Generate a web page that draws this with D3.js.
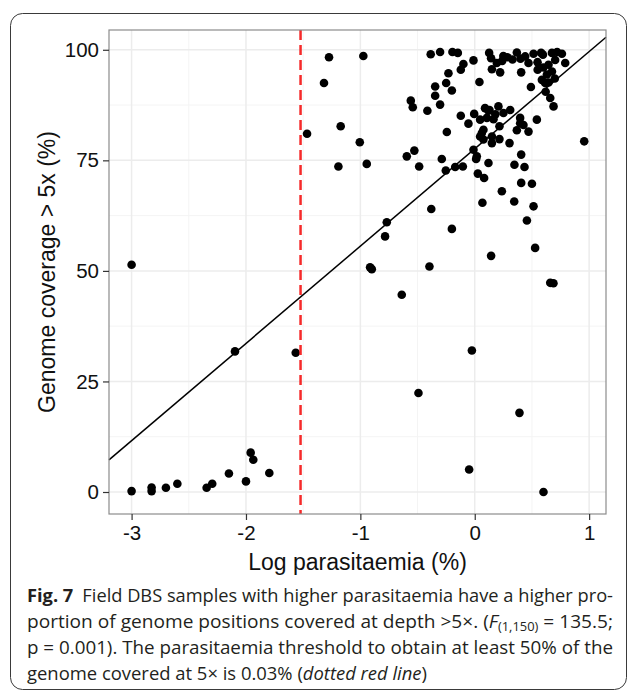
<!DOCTYPE html>
<html><head><meta charset="utf-8">
<script src="https://cdn.jsdelivr.net/npm/d3@7"></script>
<style>
html,body{margin:0;padding:0;background:#fff;}
svg{display:block;}
</style></head>
<body>
<svg id="chart" width="630" height="695"></svg>
<script>
// ---- data ----
const logParasitaemia = [
 -3.00,-3.00,-2.825,-2.825,-2.70,-2.60,-2.344,-2.295,-2.149,-2.00,-1.959,-1.936,-1.796,-2.096,-1.565,
 -1.466,-1.318,-1.274,-0.974,-1.172,-1.005,-1.192,-0.944,-0.769,-0.784,-0.915,-0.900,-0.559,-0.542,-0.414,
 -0.594,-0.528,-0.486,-0.385,-0.380,-0.288,-0.253,-0.171,-0.104,-0.200,-0.396,-0.638,0.143,0.660,0.688,
 -0.025,-0.492,0.391,-0.049,0.601,
 0.012,0.027,0.082,0.120,0.237,0.067,0.345,0.406,0.347,0.435,0.406,0.500,0.514,0.456,0.528,0.957,
 -0.303,-0.195,-0.148,0.126,0.143,0.193,-0.011,-0.099,-0.122,-0.230,-0.250,-0.346,-0.346,-0.200,0.041,
 -0.303,0.222,0.150,0.286,0.368,0.441,0.514,0.470,0.406,0.549,0.596,0.675,0.762,0.703,0.645,0.791,
 0.675,0.631,0.616,0.587,0.645,0.491,0.660,0.689,-0.122,-0.005,0.129,0.207,0.251,0.310,0.397,0.543,
 -0.244,-0.055,0.062,0.076,0.150,0.216,0.216,0.106,0.304,0.397,0.368,0.470,-0.011,0.018,0.047,0.164,
 0.076,0.047,0.150,0.426,0.120,0.250,0.330,0.400,0.580,0.720,0.600,0.550,0.700,0.620,0.240,0.090,0.180
];
const genomeCoverage = [
 51.4,0.2,1.0,0.2,0.95,1.85,0.95,1.85,4.2,2.4,8.9,7.3,4.3,31.8,31.5,
 81.0,92.5,98.3,98.6,82.7,79.1,73.6,74.2,61.0,57.8,50.8,50.4,88.5,87.0,86.2,
 75.9,77.2,73.6,99.0,64.0,75.3,72.7,73.5,73.6,59.5,51.0,44.6,53.4,47.3,47.2,
 32.0,22.4,17.9,5.1,0.0,
 75.3,72.0,71.0,74.4,68.0,65.4,65.7,76.3,74.0,73.5,69.9,69.7,64.6,61.4,55.2,79.3,
 99.5,99.5,99.3,99.3,98.1,97.0,97.6,96.8,95.5,94.7,92.5,91.7,89.6,90.8,92.7,
 87.6,94.9,95.6,98.3,99.4,98.5,99.1,97.0,94.9,97.2,98.9,99.3,99.1,97.7,96.6,97.0,
 95.1,94.4,92.5,93.2,92.6,91.6,89.1,87.2,85.1,85.5,86.4,87.2,85.7,86.4,84.6,84.2,
 81.4,83.3,81.2,79.7,78.9,79.8,82.7,84.6,78.9,83.4,81.8,81.5,77.4,75.9,84.2,84.3,
 81.9,80.4,80.4,83.0,86.2,98.6,97.8,98.0,99.3,99.5,96.0,95.5,93.5,90.5,97.5,86.8,85.4
];
const xTicks = [-3,-2,-1,0,1];
const yTicks = [0,25,50,75,100];
const xMinor = [-2.5,-1.5,-0.5,0.5];
const yMinor = [12.5,37.5,62.5,87.5];
const fitIntercept = 77.6;
const fitSlope = 22.0;
const thresholdLog = Math.log10(0.03);
const xTitle = "Log parasitaemia (%)";
const yTitle = "Genome coverage > 5x (%)";

const points = logParasitaemia.map((x,i)=>({x, y: genomeCoverage[i]}));

// ---- layout ----
const svg = d3.select("#chart");
const P = {left:109, right:606, top:30, bottom:514};
const x = d3.scaleLinear().domain([-3.1975, 1.1475]).range([P.left, P.right]);
const y = d3.scaleLinear().domain([-4.975, 104.475]).range([P.bottom, P.top]);

// outer frame
svg.append("rect").attr("x",10.5).attr("y",13.5).attr("width",616).attr("height",676)
  .attr("rx",12).attr("fill","none").attr("stroke","#3a3a3a").attr("stroke-width",1);

const grid = svg.append("g");
grid.selectAll(".xminor").data(xMinor).join("line")
  .attr("x1",d=>x(d)).attr("x2",d=>x(d)).attr("y1",P.top).attr("y2",P.bottom)
  .attr("stroke","#f4f4f4").attr("stroke-width",1);
grid.selectAll(".yminor").data(yMinor).join("line")
  .attr("y1",d=>y(d)).attr("y2",d=>y(d)).attr("x1",P.left).attr("x2",P.right)
  .attr("stroke","#f4f4f4").attr("stroke-width",1);
grid.selectAll(".xmajor").data(xTicks).join("line")
  .attr("x1",d=>x(d)).attr("x2",d=>x(d)).attr("y1",P.top).attr("y2",P.bottom)
  .attr("stroke","#ececec").attr("stroke-width",1.5);
grid.selectAll(".ymajor").data(yTicks).join("line")
  .attr("y1",d=>y(d)).attr("y2",d=>y(d)).attr("x1",P.left).attr("x2",P.right)
  .attr("stroke","#ececec").attr("stroke-width",1.5);

// points
svg.append("g").selectAll("circle").data(points).join("circle")
  .attr("cx",d=>x(d.x)).attr("cy",d=>y(d.y)).attr("r",4.3).attr("fill","#000");

// regression line
const xd = x.domain();
const fitLine = xd.map(v=>({x:v, y: fitIntercept + fitSlope*v}));
svg.append("path").datum(fitLine)
  .attr("d", d3.line().x(d=>x(d.x)).y(d=>y(d.y)))
  .attr("stroke","#000").attr("stroke-width",1.5).attr("fill","none");

// threshold
svg.append("line").attr("x1",x(thresholdLog)).attr("x2",x(thresholdLog))
  .attr("y1",P.top).attr("y2",P.bottom)
  .attr("stroke","#f52a2a").attr("stroke-width",2.5).attr("stroke-dasharray","10,5");

// panel border
svg.append("rect").attr("x",P.left).attr("y",P.top).attr("width",P.right-P.left).attr("height",P.bottom-P.top)
  .attr("fill","none").attr("stroke","#8c8c8c").attr("stroke-width",1.2);

// axes
const font = "'Liberation Sans', Arial, sans-serif";
const xAxis = svg.append("g").attr("transform",`translate(0,${P.bottom})`)
  .call(d3.axisBottom(x).tickValues(xTicks).tickSize(6).tickPadding(5).tickFormat(d3.format("d")));
const yAxis = svg.append("g").attr("transform",`translate(${P.left},0)`)
  .call(d3.axisLeft(y).tickValues(yTicks).tickSize(6).tickPadding(4).tickFormat(d3.format("d")));
[xAxis,yAxis].forEach(a=>{
  a.select(".domain").remove();
  a.selectAll(".tick line").attr("stroke","#333").attr("stroke-width",1.2);
  a.selectAll(".tick text").attr("font-family",font).attr("font-size",20.5).attr("fill","#111");
});
xAxis.selectAll(".tick text").text(d=>d<0 ? "-"+Math.abs(d) : d);

svg.append("text").attr("x",(P.left+P.right)/2).attr("y",570).attr("text-anchor","middle")
  .attr("font-family",font).attr("font-size",23).attr("fill","#111").text(xTitle);
svg.append("text").attr("transform",`translate(55,${(P.top+P.bottom)/2}) rotate(-90)`)
  .attr("text-anchor","middle").attr("font-family",font).attr("font-size",23).attr("fill","#111").text(yTitle);

// caption
const cfont = "'Open Sans', 'Noto Sans', sans-serif";
const capX = 27, capW = 586, capSize = 18.5;
const cap = svg.append("g").attr("font-family",cfont).attr("font-size",capSize).attr("fill","#231f20");
const l1 = cap.append("text").attr("x",capX).attr("y",602).attr("textLength",capW).attr("lengthAdjust","spacingAndGlyphs");
l1.append("tspan").attr("font-weight","bold").text("Fig. 7");
l1.append("tspan").text("\u2002Field DBS samples with higher parasitaemia have a higher pro-");
const l2 = cap.append("text").attr("x",capX).attr("y",628).attr("textLength",capW).attr("lengthAdjust","spacingAndGlyphs");
l2.append("tspan").text("portion of genome positions covered at depth >5\u00d7. (");
l2.append("tspan").attr("font-style","italic").text("F");
l2.append("tspan").attr("font-size",12.5).attr("dy",3).text("(1,150)");
l2.append("tspan").attr("dy",-3).text(" = 135.5;");
const l3 = cap.append("text").attr("x",capX).attr("y",654).attr("textLength",capW).attr("lengthAdjust","spacingAndGlyphs");
l3.append("tspan").text("p = 0.001). The parasitaemia threshold to obtain at least 50% of the");
const l4 = cap.append("text").attr("x",capX).attr("y",680).attr("textLength",400).attr("lengthAdjust","spacingAndGlyphs");
l4.append("tspan").text("genome covered at 5\u00d7 is 0.03% (");
l4.append("tspan").attr("font-style","italic").text("dotted red line");
l4.append("tspan").text(")");
</script>
</body></html>
